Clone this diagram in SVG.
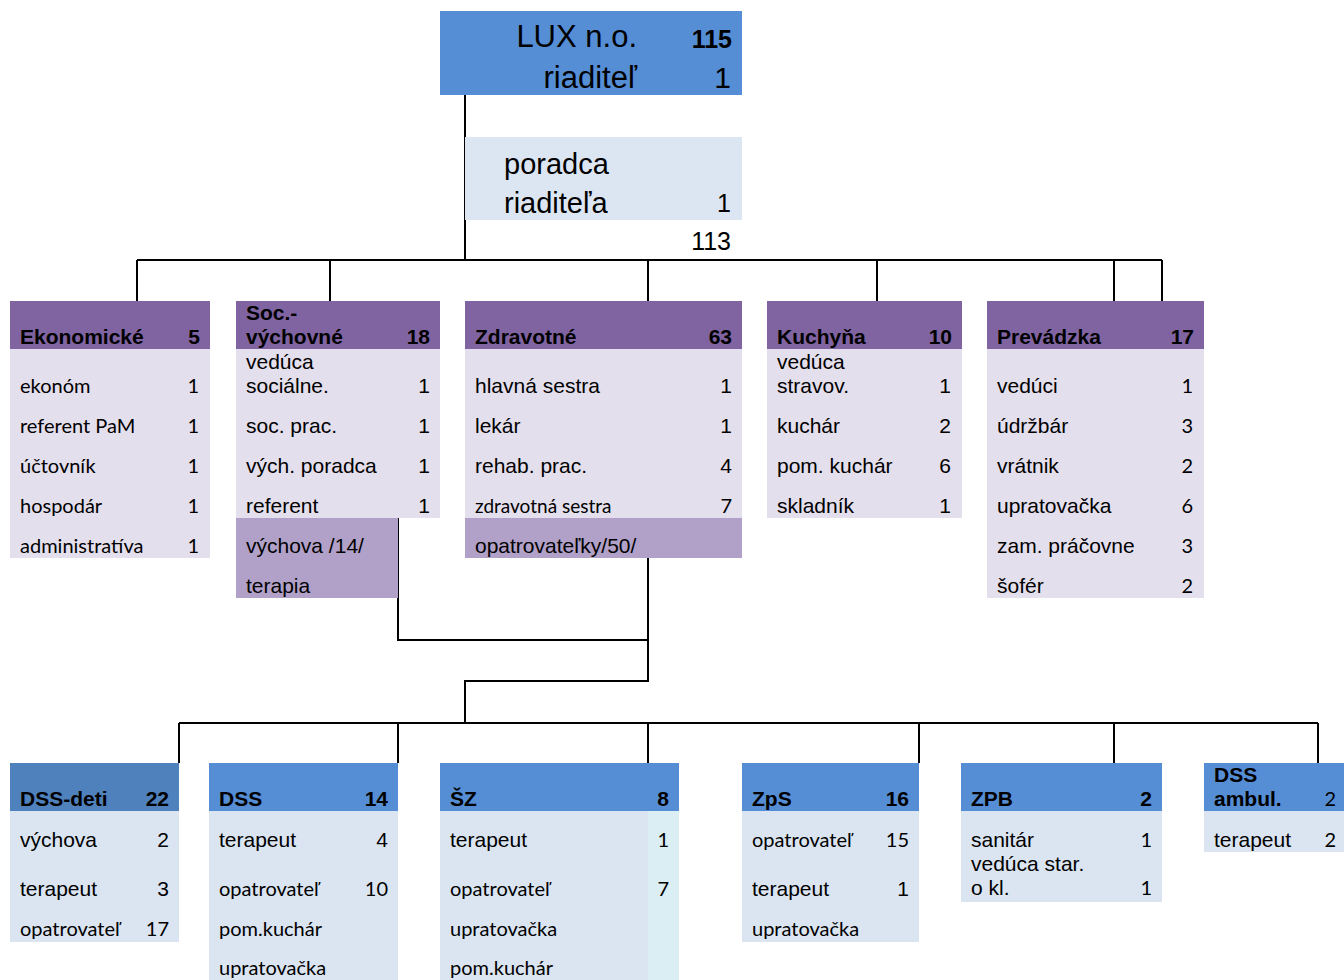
<svg xmlns="http://www.w3.org/2000/svg" width="1344" height="980" viewBox="0 0 1344 980">
<style>
.a{font-family:"Liberation Sans",Arial,sans-serif;font-size:21px;fill:#000}
.c{font-family:Lato,"Open Sans",sans-serif;font-size:20px;fill:#000}
.b{font-family:"Liberation Sans",Arial,sans-serif;font-size:21px;font-weight:bold;fill:#000}
.e{text-anchor:end}
.hp{fill:#8064A2}
.bp{fill:#E4DFEC}
.mp{fill:#B1A0C7}
.hb{fill:#558ED5}
.bb{fill:#DBE5F1}
.ln{stroke:#000;stroke-width:2;fill:none}
</style>
<rect width="1344" height="980" fill="#fff"/>
<g id="connectors">
<path class="ln" d="M465 95V260M137 260H1162M137 260V301M330 260V301M648 260V301M877 260V301M1114 260V301M1162 260V301"/>
<path class="ln" d="M398 518V640H648M648 518V681H465V723M179 723H1318M179 723V763M398 723V763M648 723V763M919 723V763M1114 723V763M1318 723V763"/>
</g>
<g id="top">
<rect x="440" y="11" width="302" height="84" class="hb"/>
<text x="637" y="47" class="a e" style="font-size:31px">LUX n.o.</text>
<text x="732" y="48" class="b e" style="font-size:25px">115</text>
<text x="637" y="88" class="a e" style="font-size:31px">riaditeľ</text>
<text x="731" y="88" class="a e" style="font-size:30px">1</text>
</g>
<g id="poradca">
<rect x="465" y="137" width="277" height="83" fill="#DCE6F2"/>
<text x="504" y="174" class="a" style="font-size:29px">poradca</text>
<text x="504" y="213" class="a" style="font-size:29px">riaditeľa</text>
<text x="731" y="212" class="a e" style="font-size:25px">1</text>
<text x="731" y="250" class="a e" style="font-size:25px">113</text>
</g>
<g id="ekonomicke">
<rect x="10" y="301" width="200" height="48" class="hp"/>
<rect x="10" y="349" width="200" height="209" class="bp"/>
<text x="20" y="344" class="b">Ekonomické</text><text x="200" y="344" class="b e">5</text>
<text x="20" y="393" class="c">ekonóm</text><text x="199" y="393" class="c e">1</text>
<text x="20" y="433" class="c">referent PaM</text><text x="199" y="433" class="c e">1</text>
<text x="20" y="473" class="c">účtovník</text><text x="199" y="473" class="c e">1</text>
<text x="20" y="513" class="c">hospodár</text><text x="199" y="513" class="c e">1</text>
<text x="20" y="553" class="c">administratíva</text><text x="199" y="553" class="c e">1</text>
</g>
<g id="soc">
<rect x="236" y="301" width="204" height="48" class="hp"/>
<rect x="236" y="349" width="204" height="169" class="bp"/>
<rect x="236" y="518" width="162" height="80" class="mp"/>
<text x="246" y="320" class="b">Soc.-</text>
<text x="246" y="344" class="b">výchovné</text><text x="430" y="344" class="b e">18</text>
<text x="246" y="369" class="a">vedúca</text>
<text x="246" y="393" class="a">sociálne.</text><text x="430" y="393" class="a e">1</text>
<text x="246" y="433" class="a">soc. prac.</text><text x="430" y="433" class="a e">1</text>
<text x="246" y="473" class="a">vých. poradca</text><text x="430" y="473" class="a e">1</text>
<text x="246" y="513" class="a">referent</text><text x="430" y="513" class="a e">1</text>
<text x="246" y="553" class="a">výchova /14/</text>
<text x="246" y="593" class="a">terapia</text>
</g>
<g id="zdravotne">
<rect x="465" y="301" width="277" height="48" class="hp"/>
<rect x="465" y="349" width="277" height="169" class="bp"/>
<rect x="465" y="518" width="277" height="40" class="mp"/>
<text x="475" y="344" class="b">Zdravotné</text><text x="732" y="344" class="b e">63</text>
<text x="475" y="393" class="a">hlavná sestra</text><text x="732" y="393" class="a e">1</text>
<text x="475" y="433" class="a">lekár</text><text x="732" y="433" class="a e">1</text>
<text x="475" y="473" class="a">rehab. prac.</text><text x="732" y="473" class="a e">4</text>
<text x="475" y="513" class="c" style="font-size:19px">zdravotná sestra</text><text x="732" y="513" class="c e">7</text>
<text x="475" y="553" class="a">opatrovateľky/50/</text>
</g>
<g id="kuchyna">
<rect x="767" y="301" width="195" height="48" class="hp"/>
<rect x="767" y="349" width="195" height="169" class="bp"/>
<text x="777" y="344" class="b">Kuchyňa</text><text x="952" y="344" class="b e">10</text>
<text x="777" y="369" class="a">vedúca</text>
<text x="777" y="393" class="a">stravov.</text><text x="951" y="393" class="a e">1</text>
<text x="777" y="433" class="a">kuchár</text><text x="951" y="433" class="a e">2</text>
<text x="777" y="473" class="a">pom. kuchár</text><text x="951" y="473" class="a e">6</text>
<text x="777" y="513" class="a">skladník</text><text x="951" y="513" class="a e">1</text>
</g>
<g id="prevadzka">
<rect x="987" y="301" width="217" height="48" class="hp"/>
<rect x="987" y="349" width="217" height="249" class="bp"/>
<text x="997" y="344" class="b">Prevádzka</text><text x="1194" y="344" class="b e">17</text>
<text x="997" y="393" class="a">vedúci</text><text x="1193" y="393" class="c e">1</text>
<text x="997" y="433" class="a">údržbár</text><text x="1193" y="433" class="c e">3</text>
<text x="997" y="473" class="a">vrátnik</text><text x="1193" y="473" class="c e">2</text>
<text x="997" y="513" class="a">upratovačka</text><text x="1193" y="513" class="c e">6</text>
<text x="997" y="553" class="a">zam. práčovne</text><text x="1193" y="553" class="c e">3</text>
<text x="997" y="593" class="a">šofér</text><text x="1193" y="593" class="c e">2</text>
</g>
<g id="dss-deti">
<rect x="10" y="763" width="169" height="48" fill="#4F81BD"/>
<rect x="10" y="811" width="169" height="131" class="bb"/>
<text x="20" y="806" class="b">DSS-deti</text><text x="169" y="806" class="b e">22</text>
<text x="20" y="847" class="a">výchova</text><text x="169" y="847" class="a e">2</text>
<text x="20" y="896" class="a">terapeut</text><text x="169" y="896" class="a e">3</text>
<text x="20" y="936" class="c">opatrovateľ</text><text x="169" y="936" class="c e">17</text>
</g>
<g id="dss">
<rect x="209" y="763" width="189" height="48" class="hb"/>
<rect x="209" y="811" width="189" height="169" class="bb"/>
<text x="219" y="806" class="b">DSS</text><text x="388" y="806" class="b e">14</text>
<text x="219" y="847" class="a">terapeut</text><text x="388" y="847" class="a e">4</text>
<text x="219" y="896" class="c">opatrovateľ</text><text x="388" y="896" class="c e">10</text>
<text x="219" y="936" class="c">pom.kuchár</text>
<text x="219" y="975" class="c">upratovačka</text>
</g>
<g id="sz">
<rect x="440" y="763" width="239" height="48" class="hb"/>
<rect x="440" y="811" width="208" height="169" class="bb"/>
<rect x="648" y="811" width="31" height="169" fill="#DAEEF3"/>
<text x="450" y="806" class="b">ŠZ</text><text x="669" y="806" class="b e">8</text>
<text x="450" y="847" class="a">terapeut</text><text x="669" y="847" class="c e">1</text>
<text x="450" y="896" class="c">opatrovateľ</text><text x="669" y="896" class="c e">7</text>
<text x="450" y="936" class="c">upratovačka</text>
<text x="450" y="975" class="c">pom.kuchár</text>
</g>
<g id="zps">
<rect x="742" y="763" width="177" height="48" class="hb"/>
<rect x="742" y="811" width="177" height="131" class="bb"/>
<text x="752" y="806" class="b">ZpS</text><text x="909" y="806" class="b e">16</text>
<text x="752" y="847" class="c">opatrovateľ</text><text x="909" y="847" class="c e">15</text>
<text x="752" y="896" class="a">terapeut</text><text x="909" y="896" class="a e">1</text>
<text x="752" y="936" class="c">upratovačka</text>
</g>
<g id="zpb">
<rect x="961" y="763" width="201" height="48" class="hb"/>
<rect x="961" y="811" width="201" height="91" class="bb"/>
<text x="971" y="806" class="b">ZPB</text><text x="1152" y="806" class="b e">2</text>
<text x="971" y="847" class="a">sanitár</text><text x="1152" y="847" class="c e">1</text>
<text x="971" y="871" class="a">vedúca star.</text>
<text x="971" y="895" class="a">o kl.</text><text x="1152" y="895" class="c e">1</text>
</g>
<g id="dss-ambul">
<rect x="1204" y="763" width="140" height="48" class="hb"/>
<rect x="1204" y="811" width="140" height="41" class="bb"/>
<text x="1214" y="782" class="b">DSS</text>
<text x="1214" y="806" class="b">ambul.</text><text x="1336" y="806" class="c e">2</text>
<text x="1214" y="847" class="a">terapeut</text><text x="1336" y="847" class="c e">2</text>
</g>
</svg>
